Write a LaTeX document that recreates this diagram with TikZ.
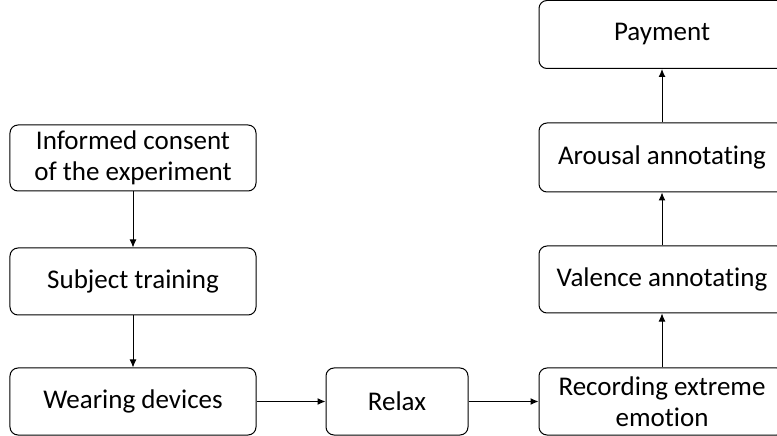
\documentclass[tikz,border=0pt]{standalone}
\usepackage{fontspec}
\setmainfont[Ligatures=NoCommon]{Carlito}
\usetikzlibrary{arrows.meta}
\begin{document}
\begin{tikzpicture}[x=1bp, y=-1bp, line width=1bp,
        box/.style={draw, rounded corners=8bp, minimum width=246bp, align=center, font=\fontsize{27bp}{31bp}\selectfont},
        arr/.style={-{Latex[length=8bp,width=7bp]}}]
        \useasboundingbox (0, 0) rectangle (777, 436);
        \node[box, minimum height=66bp] (consent) at (133, 158) {Informed consent\\of the experiment};
        \node[box, minimum height=67bp] (training) at (133, 281.5) {Subject training};
        \node[box, minimum height=67bp] (devices) at (133, 401.5) {Wearing devices};
        \node[box, minimum height=67bp, minimum width=142bp] (relax) at (397, 401.5) {Relax};
        \node[box, minimum height=67bp] (record) at (662, 401.5) {Recording extreme\\emotion};
        \node[box, minimum height=67bp] (valence) at (662, 279.5) {Valence annotating};
        \node[box, minimum height=69bp] (arousal) at (662, 157.5) {Arousal annotating};
        \node[box, minimum height=68bp] (payment) at (662, 34.5) {Payment};
        \draw[arr] (consent) -- (training);
        \draw[arr] (training) -- (devices);
        \draw[arr] (devices) -- (relax);
        \draw[arr] (relax) -- (record);
        \draw[arr] (record) -- (valence);
        \draw[arr] (valence) -- (arousal);
        \draw[arr] (arousal) -- (payment);
\end{tikzpicture}
\end{document}
